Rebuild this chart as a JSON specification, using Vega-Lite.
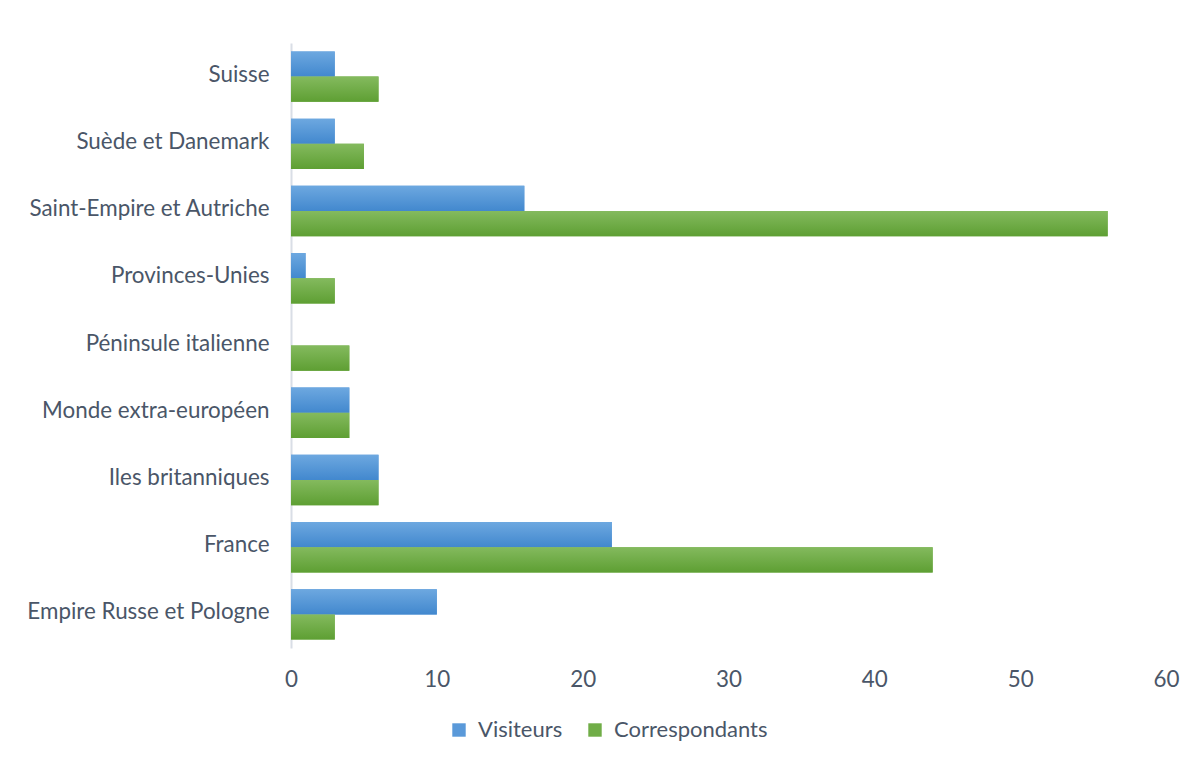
{
  "$schema": "https://vega.github.io/schema/vega-lite/v6.json",
  "width": 875,
  "height": 605,
  "autosize": {"type": "none"},
  "padding": {"left": 291, "top": 43, "right": 28, "bottom": 115},
  "background": "white",
  "data": {
    "values": [
      {"region": "Suisse", "serie": "Visiteurs", "valeur": 3},
      {"region": "Suisse", "serie": "Correspondants", "valeur": 6},
      {"region": "Suède et Danemark", "serie": "Visiteurs", "valeur": 3},
      {"region": "Suède et Danemark", "serie": "Correspondants", "valeur": 5},
      {"region": "Saint-Empire et Autriche", "serie": "Visiteurs", "valeur": 16},
      {"region": "Saint-Empire et Autriche", "serie": "Correspondants", "valeur": 56},
      {"region": "Provinces-Unies", "serie": "Visiteurs", "valeur": 1},
      {"region": "Provinces-Unies", "serie": "Correspondants", "valeur": 3},
      {"region": "Péninsule italienne", "serie": "Visiteurs", "valeur": 0},
      {"region": "Péninsule italienne", "serie": "Correspondants", "valeur": 4},
      {"region": "Monde extra-européen", "serie": "Visiteurs", "valeur": 4},
      {"region": "Monde extra-européen", "serie": "Correspondants", "valeur": 4},
      {"region": "Iles britanniques", "serie": "Visiteurs", "valeur": 6},
      {"region": "Iles britanniques", "serie": "Correspondants", "valeur": 6},
      {"region": "France", "serie": "Visiteurs", "valeur": 22},
      {"region": "France", "serie": "Correspondants", "valeur": 44},
      {"region": "Empire Russe et Pologne", "serie": "Visiteurs", "valeur": 10},
      {"region": "Empire Russe et Pologne", "serie": "Correspondants", "valeur": 3}
    ]
  },
  "encoding": {
    "y": {
      "field": "region",
      "type": "nominal",
      "sort": ["Suisse", "Suède et Danemark", "Saint-Empire et Autriche", "Provinces-Unies", "Péninsule italienne", "Monde extra-européen", "Iles britanniques", "France", "Empire Russe et Pologne"],
      "scale": {"paddingInner": 0.25, "paddingOuter": 0.125},
      "axis": {"title": null, "domain": true, "domainColor": "#D9DEE6", "domainWidth": 2, "ticks": false, "labelPadding": 22, "labelOffset": -2, "labelFont": "Lato", "labelFontSize": 22.4, "labelColor": "#4A5668", "labelLimit": 400}
    },
    "yOffset": {
      "field": "serie",
      "type": "nominal",
      "sort": ["Visiteurs", "Correspondants"],
      "scale": {"paddingInner": 0, "paddingOuter": 0}
    },
    "x": {
      "field": "valeur",
      "type": "quantitative",
      "scale": {"domain": [0, 60], "nice": false},
      "axis": {"title": null, "values": [0, 10, 20, 30, 40, 50, 60], "grid": false, "domain": false, "ticks": false, "labelPadding": 20, "labelFont": "Lato", "labelFontSize": 22.4, "labelColor": "#4A5668", "labelFlush": false}
    }
  },
  "layer": [
    {
      "mark": {"type": "bar"},
      "encoding": {
        "color": {
          "field": "serie",
          "type": "nominal",
          "sort": ["Visiteurs", "Correspondants"],
          "scale": {"domain": ["Visiteurs", "Correspondants"], "range": ["#5A99D9", "#70AD47"]},
          "legend": {"title": null, "orient": "none", "legendX": 157, "legendY": 676, "direction": "horizontal", "symbolType": "square", "symbolSize": 180, "symbolStrokeWidth": 0, "labelFont": "Lato", "labelFontSize": 22, "labelColor": "#4A5668", "labelOffset": 8, "columnPadding": 21, "symbolOffset": 0}
        }
      }
    },
    {
      "mark": {"type": "bar"},
      "encoding": {
        "color": {
          "condition": {
            "test": "datum.serie === 'Visiteurs'",
            "value": {"gradient": "linear", "x1": 0, "y1": 0, "x2": 0, "y2": 1, "stops": [{"offset": 0, "color": "#6DA8E0"}, {"offset": 1, "color": "#4288CE"}]}
          },
          "value": {"gradient": "linear", "x1": 0, "y1": 0, "x2": 0, "y2": 1, "stops": [{"offset": 0, "color": "#84BA5E"}, {"offset": 1, "color": "#5E9F33"}]}
        }
      }
    }
  ],
  "config": {"view": {"stroke": null}}
}
